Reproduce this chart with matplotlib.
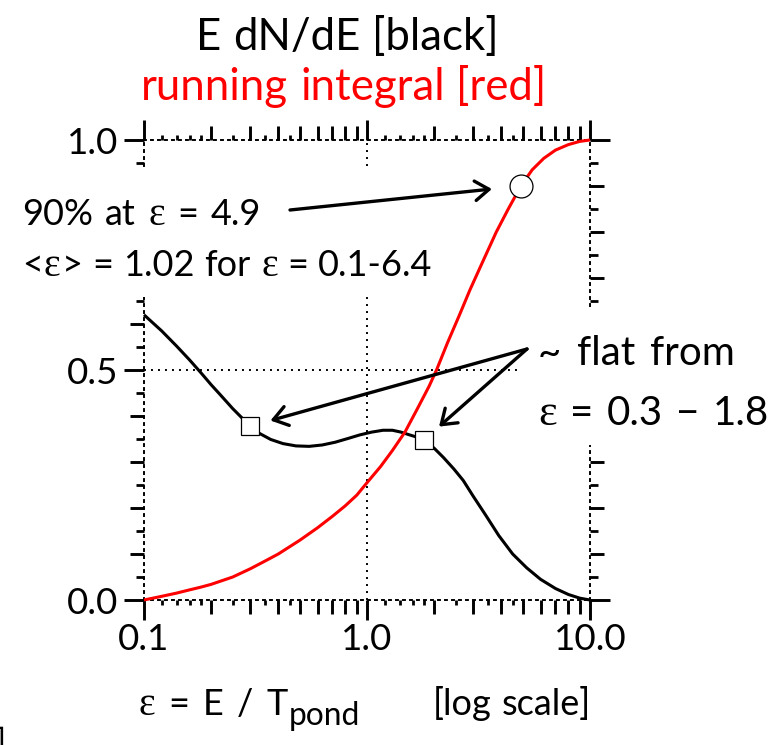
import matplotlib
matplotlib.use("Agg")
import matplotlib.pyplot as plt
from matplotlib.ticker import FixedLocator, FixedFormatter, NullFormatter, NullLocator
from matplotlib.patches import Rectangle
from matplotlib.transforms import IdentityTransform

W, H, DPI = 781, 745, 100
SANS = ["Lato", "DejaVu Sans"]
SERIF = ["Liberation Serif", "DejaVu Serif"]

# E dN/dE spectrum (black)
eps_spec = [0.10, 0.12, 0.14, 0.16, 0.18, 0.20, 0.22, 0.25, 0.28, 0.30,
            0.33, 0.37, 0.42, 0.48, 0.55, 0.63, 0.72, 0.82, 0.93, 1.05,
            1.18, 1.30, 1.42, 1.55, 1.65, 1.80, 2.00, 2.20, 2.45, 2.70,
            3.00, 3.40, 3.90, 4.50, 5.20, 6.00, 7.00, 8.00, 9.00, 10.0]
spec = [0.620, 0.585, 0.552, 0.522, 0.494, 0.468, 0.446, 0.416, 0.392, 0.378,
        0.362, 0.349, 0.340, 0.335, 0.334, 0.337, 0.343, 0.351, 0.359, 0.365,
        0.369, 0.369, 0.365, 0.359, 0.355, 0.348, 0.330, 0.310, 0.285, 0.260,
        0.225, 0.185, 0.140, 0.100, 0.070, 0.045, 0.025, 0.012, 0.004, 0.000]

# running integral (red)
eps_int = [0.10, 0.12, 0.14, 0.16, 0.18, 0.20, 0.25, 0.30, 0.35, 0.40,
           0.50, 0.60, 0.70, 0.80, 0.90, 1.00, 1.15, 1.30, 1.48, 1.70,
           1.90, 2.05, 2.30, 2.60, 2.90, 3.30, 3.80, 4.30, 4.90, 5.50,
           6.20, 7.00, 8.00, 9.00, 10.0]
cum = [0.000, 0.008, 0.015, 0.022, 0.028, 0.034, 0.050, 0.068, 0.085, 0.100,
       0.130, 0.157, 0.182, 0.205, 0.228, 0.255, 0.290, 0.325, 0.365, 0.420,
       0.465, 0.500, 0.560, 0.620, 0.675, 0.735, 0.800, 0.850, 0.900, 0.935,
       0.960, 0.978, 0.990, 0.997, 1.000]

# highlighted points
p90_eps = 4.9
p90_val = 0.90
flat_eps = [0.3, 1.8]
flat_val = [spec[eps_spec.index(e)] for e in flat_eps]

# ticks
x_major = [0.1, 1.0, 10.0]
x_major_labels = ["0.1", "1.0", "10.0"]
x_minor = [0.2, 0.3, 0.4, 0.5, 0.6, 0.7, 0.8, 0.9, 2, 3, 4, 5, 6, 7, 8, 9]
x_sub = [0.12, 0.14, 0.16, 0.18, 0.25, 0.35, 0.45,
         1.2, 1.4, 1.6, 1.8, 2.5, 3.5, 4.5]
y_major = [0.0, 0.5, 1.0]
y_major_labels = ["0.0", "0.5", "1.0"]
y_minor = [0.1, 0.2, 0.3, 0.4, 0.6, 0.7, 0.8, 0.9]
y_sub = [0.05, 0.15, 0.25, 0.35, 0.45, 0.55, 0.65, 0.75, 0.85, 0.95]

DOT = (0, (1, 2.6))
XLIM = (x_major[0], x_major[-1])
YLIM = (y_major[0], y_major[-1])

fig = plt.figure(figsize=(W / DPI, H / DPI), dpi=DPI)
fig.patch.set_facecolor("white")
renderer = fig.canvas.get_renderer()

L, R, T, B = 144, 590, 140, 600
rect = [L / W, (H - B) / H, (R - L) / W, (B - T) / H]

ax = fig.add_axes(rect)
ax_sub = fig.add_axes(rect)
ax_sub.set_zorder(-1)

for a in (ax, ax_sub):
    a.set_xscale("log")
    a.set_xlim(*XLIM)
    a.set_ylim(*YLIM)
    a.patch.set_visible(False)

for sp in ax.spines.values():
    sp.set_linestyle(DOT)
    sp.set_linewidth(1.4)
    sp.set_color("black")

ax.xaxis.set_major_locator(FixedLocator(x_major))
ax.xaxis.set_major_formatter(FixedFormatter(x_major_labels))
ax.xaxis.set_minor_locator(FixedLocator(x_minor))
ax.xaxis.set_minor_formatter(NullFormatter())
ax.yaxis.set_major_locator(FixedLocator(y_major))
ax.yaxis.set_major_formatter(FixedFormatter(y_major_labels))
ax.yaxis.set_minor_locator(FixedLocator(y_minor))

ax.tick_params(which="both", direction="out", top=True, right=True,
               color="black", width=2.1)
ax.tick_params(which="major", length=14.4, labelsize=26.5)
ax.tick_params(which="minor", length=10)
ax.tick_params(axis="x", which="major", pad=2.5)
ax.tick_params(axis="y", which="major", pad=4)
for lab in ax.get_xticklabels() + ax.get_yticklabels():
    lab.set_family(SANS)

# sub-minor ticks on an overlaid frame
for sp in ax_sub.spines.values():
    sp.set_visible(False)
ax_sub.xaxis.set_major_locator(FixedLocator(x_sub))
ax_sub.xaxis.set_minor_locator(NullLocator())
ax_sub.yaxis.set_major_locator(FixedLocator(y_sub))
ax_sub.yaxis.set_minor_locator(NullLocator())
ax_sub.tick_params(which="both", direction="out", top=True, right=True,
                   labelbottom=False, labelleft=False, width=2.0)
ax_sub.tick_params(axis="x", length=3.4)
ax_sub.tick_params(axis="y", length=5.8)

# interior reference lines at the middle major ticks
for v in x_major[1:-1]:
    ax.axvline(v, color="black", lw=1.4, ls=DOT, zorder=2)
for v in y_major[1:-1]:
    ax.axhline(v, color="black", lw=1.4, ls=DOT, zorder=2)

# opaque backgrounds behind the annotation blocks
for (x0, y0, x1, y1) in [(8, 168, 428, 297), (518, 308, 781, 445)]:
    r = Rectangle((x0, H - y1), x1 - x0, y1 - y0, transform=IdentityTransform(),
                  facecolor="white", edgecolor="none", zorder=3)
    ax.add_patch(r)
    r.set_clip_on(False)

# curves
ax.plot(eps_spec, spec, color="black", lw=2.2, zorder=4, clip_on=False,
        solid_capstyle="butt")
ax.plot(eps_int, cum, color="#ff0000", lw=2.2, zorder=4, clip_on=False,
        solid_capstyle="butt")
ax.plot(flat_eps, flat_val, "s", ms=13, mfc="white", mec="black", mew=0.9,
        zorder=6, clip_on=False)
ax.plot([p90_eps], [p90_val], "o", ms=16.5, mfc="white", mec="black", mew=0.9,
        zorder=6, clip_on=False)

# arrows
astyle = "->,head_length=0.5,head_width=0.35"
ax.annotate("", xy=(p90_eps, p90_val), xycoords="data",
            xytext=(290, H - 210), textcoords="figure pixels",
            arrowprops=dict(arrowstyle=astyle, lw=2.4, color="black",
                            shrinkA=0, shrinkB=21, mutation_scale=20),
            zorder=7)
for e, v, sh in zip(flat_eps, flat_val, [15, 14.5]):
    ax.annotate("", xy=(e, v), xycoords="data",
                xytext=(527, H - 349), textcoords="figure pixels",
                arrowprops=dict(arrowstyle=astyle, lw=2.4, color="black",
                                shrinkA=0, shrinkB=sh, mutation_scale=20),
                zorder=7)


def width_of(txt, family, size):
    t = fig.text(0, 0, txt, family=family, fontsize=size)
    w = t.get_window_extent(renderer).width
    t.remove()
    return w


def space_of(family, size):
    return width_of("x x", family, size) - width_of("xx", family, size)


def rich_line(x, y, parts, color="black", ha="left", sp=1.05):
    """parts: (text, family, size, spaces_before, rise_px)"""
    items = []
    total = 0.0
    for i, (txt, fam, size, nsp, rise) in enumerate(parts):
        gap = nsp * sp * space_of(SANS, size) if nsp else 1.0
        if i == 0:
            gap = 0.0
        w = width_of(txt, fam, size)
        items.append((txt, fam, size, gap, w, rise))
        total += gap + w
    cx = x - total / 2 if ha == "center" else x
    for txt, fam, size, gap, w, rise in items:
        cx += gap
        fig.text(cx / W, (H - y + rise) / H, txt, family=fam, fontsize=size,
                 color=color, ha="left", va="baseline", zorder=8)
        cx += w


# title
fs_t = 31.5
rich_line(347, 50, [("E", SANS, fs_t, 0, 0), ("dN/dE", SANS, fs_t, 1, 0),
                    ("[black]", SANS, fs_t, 1, 0)], ha="center")
rich_line(344, 100, [("running", SANS, fs_t, 0, 0),
                     ("integral", SANS, fs_t, 1, 0),
                     ("[red]", SANS, fs_t, 1, 0)], color="#ff0000", ha="center")

# annotations
fs_l = 26
rich_line(22, 225, [("90%", SANS, fs_l, 0, 0), ("at", SANS, fs_l, 1, 0),
                    ("ε", SERIF, fs_l * 1.1, 1, 0),
                    ("=", SANS, fs_l, 1, 0), ("4.9", SANS, fs_l, 1, 0)], sp=1.3)
rich_line(22, 276, [("<", SANS, fs_l, 0, 0),
                    ("ε", SERIF, fs_l * 1.1, 0, 0),
                    (">", SANS, fs_l, 0, 0),
                    ("=", SANS, fs_l, 1, 0), ("1.02", SANS, fs_l, 1, 0),
                    ("for", SANS, fs_l, 1, 0),
                    ("ε", SERIF, fs_l * 1.1, 1, 0),
                    ("=", SANS, fs_l, 1, 0), ("0.1-6.4", SANS, fs_l, 1, 0)])
fs_r = 29
rich_line(538, 365, [("~", SANS, fs_r, 0, 0), ("flat", SANS, fs_r, 1, 0),
                     ("from", SANS, fs_r, 1, 0)], sp=1.5)
rich_line(538, 425, [("ε", SERIF, fs_r * 1.1, 0, 0),
                     ("=", SANS, fs_r, 1, 0), ("0.3", SANS, fs_r, 1, 0),
                     ("−", SANS, fs_r, 1, 0), ("1.8", SANS, fs_r, 1, 0)], sp=1.3)

# x-axis label
fs_x = 26
rich_line(138, 715, [("ε", SERIF, fs_x * 1.1, 0, 0),
                     ("=", SANS, fs_x, 1, 0), ("E", SANS, fs_x, 1, 0),
                     ("/", SANS, fs_x, 1, 0), ("T", SANS, fs_x, 1, 0),
                     ("pond", SANS, fs_x * 0.88, 0, -10)], sp=1.45)
rich_line(433, 715, [("[log", SANS, fs_x, 0, 0), ("scale]", SANS, fs_x, 1, 0)])

fig.text(-4 / W, (H - 752) / H, "]", family=SANS, fontsize=24, ha="left",
         va="baseline")

fig.savefig("out.png", dpi=DPI, facecolor="white")
